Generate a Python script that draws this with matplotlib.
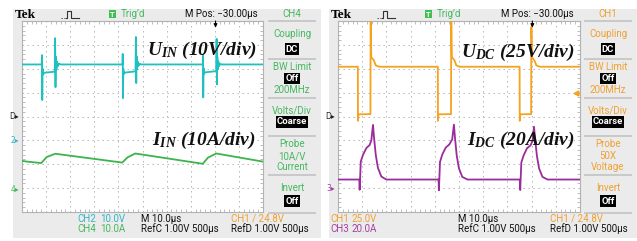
import matplotlib

matplotlib.use("Agg")
import matplotlib.pyplot as plt
from matplotlib.patches import Rectangle
from matplotlib.transforms import blended_transform_factory

# ── waveform data (time in µs, channel units) ────────────────────────────────
uin_t = [0.0, 8.2, 8.3, 8.4, 8.55, 8.75, 9.2, 13.6, 13.75, 13.9, 14.05, 14.25, 14.5, 14.8, 15.3, 16.0,
         41.7, 41.8, 41.9, 42.05, 42.25, 42.7, 47.1, 47.25, 47.4, 47.55, 47.75, 48.0, 48.3, 48.8, 49.5,
         75.0, 75.1, 75.2, 75.35, 75.55, 76.0, 80.6, 80.75, 80.9, 81.05, 81.25, 81.5, 81.8, 82.3, 83.0, 100.0]
uin_v = [31.8, 31.8, 35.7, 16.9, 30.0, 27.6, 28.3, 28.8, 42.8, 22.3, 35.0, 29.6, 33.0, 31.0, 32.2, 31.8,
         31.8, 36.2, 17.7, 30.0, 27.8, 28.4, 28.9, 43.3, 24.0, 35.2, 29.8, 33.0, 31.2, 32.1, 31.8,
         31.8, 36.0, 18.0, 30.2, 27.9, 28.5, 29.0, 42.5, 23.5, 35.0, 29.8, 33.0, 31.1, 32.0, 31.8, 31.8]

iin_t = [0.0, 3.0, 8.0, 10.2, 13.8, 41.6, 43.8, 47.0, 75.0, 77.2, 80.6, 100.0]
iin_a = [12.1, 11.7, 11.2, 13.7, 15.1, 11.4, 13.6, 15.2, 10.9, 13.5, 15.2, 11.8]

udc_t = [0.0, 8.2, 8.26, 8.45, 13.4, 13.5, 13.6, 13.75, 14.8, 15.6, 17.0,
         41.25, 41.3, 41.5, 46.7, 46.8, 46.9, 47.05, 48.1, 48.9, 50.3,
         75.05, 75.1, 75.3, 79.8, 79.9, 80.0, 80.15, 81.2, 82.0, 83.4, 100.0]
udc_v = [52.1, 52.1, -4.5, 2.3, 2.5, 112.0, 83.0, 62.0, 59.0, 53.5, 52.1,
         52.1, -4.5, 2.3, 2.5, 112.0, 83.0, 62.0, 59.0, 53.5, 52.1,
         52.1, -4.5, 2.3, 2.5, 93.6, 80.0, 62.0, 58.5, 53.5, 52.1, 52.1]

idc_t = [0.0, 8.8, 8.95, 9.4, 10.33, 11.7, 13.1, 13.8, 14.46, 14.9, 15.6, 16.5, 17.9, 20.0,
         41.55, 41.7, 42.15, 43.1, 44.5, 46.0, 47.2, 47.9, 48.35, 49.05, 49.95, 51.35, 53.5,
         75.15, 75.3, 75.75, 76.7, 78.1, 79.6, 80.4, 81.0, 81.45, 82.2, 83.1, 84.5, 86.6, 100.0]
idc_a = [7.8, 7.8, -0.8, 22.8, 28.5, 34.1, 36.8, 41.0, 53.6, 42.7, 28.5, 17.6, 10.3, 7.8,
         7.8, -1.2, 22.5, 28.8, 34.5, 37.2, 41.5, 53.8, 42.5, 28.0, 17.3, 10.0, 7.8,
         7.8, -1.0, 22.0, 28.0, 34.0, 36.5, 40.5, 52.1, 41.5, 27.5, 17.0, 10.0, 7.8, 7.8]

# channel settings: units per division and ground position (divisions from centre)
uin_scale, uin_ground = 10.0, -1.0     # CH2
iin_scale, iin_ground = 10.0, -3.07    # CH4
udc_scale, udc_ground = 25.0, 0.0      # CH1
idc_scale, idc_ground = 20.0, -3.03    # CH3
trig_level = 24.8                      # CH1 trigger, volts
trig_pos = 80.3                        # µs

# ── colours / fonts ──────────────────────────────────────────────────────────
CYAN, GREEN, ORANGE, PURPLE = "#1fc0c0", "#3cb44b", "#f5a31f", "#9b2c9b"
CYAN_TXT, GREEN_TXT, ORANGE_TXT, PURPLE_TXT = "#33b5c6", "#45b85f", "#f0a033", "#a142a1"
PANEL = "#ebebeb"
GRID = "#b2b2b2"
SEP = "#c6c6c6"
NARROW = ["Liberation Sans Narrow", "Roboto", "DejaVu Sans"]

plt.rcParams["lines.scale_dashes"] = False
plt.rcParams["mathtext.fontset"] = "custom"
plt.rcParams["mathtext.it"] = "Liberation Serif:italic:bold"
plt.rcParams["mathtext.rm"] = "Liberation Serif:italic:bold"
plt.rcParams["mathtext.bf"] = "Liberation Serif:italic:bold"

W, H = 637, 241
fig = plt.figure(figsize=(W / 100, H / 100), dpi=100)
fig.patch.set_facecolor("white")

bg = fig.add_axes([0, 0, 1, 1], zorder=0)
bg.set_xlim(0, W)
bg.set_ylim(H, 0)
bg.axis("off")

top = fig.add_axes([0, 0, 1, 1], zorder=3)
top.set_xlim(0, W)
top.set_ylim(H, 0)
top.axis("off")
top.patch.set_alpha(0)


def grid_axes(x0, x1, y0=21, y1=212):
    ax = fig.add_axes([x0 / W, (H - y1) / H, (x1 - x0) / W, (y1 - y0) / H], zorder=1)
    ax.set_facecolor("white")
    ax.set_xlim(0, 100)
    ax.set_ylim(-4, 4)
    ax.set_xticks(range(10, 100, 10))
    ax.set_yticks(range(-3, 4))
    ax.set_xticks([i * 2 for i in range(51)], minor=True)
    ax.set_yticks([i * 0.2 - 4 for i in range(41)], minor=True)
    ax.tick_params(which="both", direction="in", length=0, labelbottom=False, labelleft=False)
    ax.tick_params(which="minor", length=2.5, color=GRID, width=0.6,
                   top=True, right=True, bottom=True, left=True)
    ax.grid(True, which="major", color=GRID, lw=0.7, linestyle=(0, (1, 2.6)))
    for s in ax.spines.values():
        s.set_color(GRID)
        s.set_linewidth(0.8)
    return ax


def panel(ox, menu, menu_color, chan_head):
    # panel background, header and side menu; ox = horizontal offset of panel
    bg.add_patch(Rectangle((13 + ox, 9), 308, 229, facecolor=PANEL, edgecolor="none"))
    bg.text(15 + ox, 14.5, "Tek", fontsize=9.5, fontweight="bold",
            family="Liberation Serif", va="center", ha="left")
    # trigger icon
    bg.plot([61 + ox, 66 + ox], [18, 18], color="#555555", lw=0.7, linestyle=(0, (1, 1)))
    bg.plot([66 + ox, 67 + ox, 67 + ox, 71 + ox, 71 + ox, 79 + ox],
            [18, 18, 11, 11, 18, 18], color="#333333", lw=0.8)
    bg.add_patch(Rectangle((109 + ox, 10), 7, 8, facecolor="#3fbf4f", edgecolor="none"))
    bg.text(112.5 + ox, 14.3, "T", color="white", fontsize=5.5, fontweight="bold",
            ha="center", va="center", family=NARROW)
    bg.text(121 + ox, 14, "Trig\u2019d", color=GREEN_TXT, fontsize=7, ha="left",
            va="center", family=NARROW)
    bg.text(185 + ox, 14, "M Pos: \u221230.00\u00b5s", color="#111111", fontsize=7,
            ha="left", va="center", family=NARROW)

    cx = 292 + ox
    for y in [21, 58.5, 97.7, 136, 174.5, 213.3]:
        bg.plot([268 + ox, 316 + ox], [y, y], color=SEP, lw=1.3, solid_capstyle="butt")
    ys = [14, 34, 49, 67, 78.5, 90, 110, 122, 144, 156, 167, 188, 201]
    boxed = {2, 4, 7, 12}
    for i, (y, s) in enumerate(zip(ys, [chan_head] + menu)):
        if i in boxed:
            bg.text(cx, y, s, color="white", fontsize=6.8, fontweight="bold", ha="center",
                    va="center", family=NARROW,
                    bbox=dict(facecolor="black", edgecolor="none", pad=0.9))
        else:
            bg.text(cx, y, s, color=menu_color, fontsize=7, ha="center", va="center",
                    family=NARROW)


menu_left = ["Coupling", "DC", "BW Limit", "Off", "200MHz", "Volts/Div", "Coarse",
             "Probe", "10A/V", "Current", "Invert", "Off"]
menu_right = ["Coupling", "DC", "BW Limit", "Off", "200MHz", "Volts/Div", "Coarse",
              "Probe", "50X", "Voltage", "Invert", "Off"]
panel(0, menu_left, GREEN_TXT, "CH4")
panel(316, menu_right, ORANGE_TXT, "CH1")

# ── bottom status lines ─────────────────────────────────────────────────────
status = [
    ("CH2", 77, 219, CYAN_TXT), ("10.0V", 100, 219, CYAN_TXT),
    ("CH4", 77, 229, GREEN_TXT), ("10.0A", 100, 229, GREEN_TXT),
    ("M 10.0\u00b5s", 141, 219, "#111111"), ("RefC 1.00V 500\u00b5s", 141, 229, "#111111"),
    ("CH1 / 24.8V", 231, 219, ORANGE_TXT), ("RefD 1.00V 500\u00b5s", 231, 229, "#111111"),
    ("CH1", 330, 219, ORANGE_TXT), ("25.0V", 351, 219, ORANGE_TXT),
    ("CH3", 330, 229, PURPLE_TXT), ("20.0A", 351, 229, PURPLE_TXT),
    ("M 10.0\u00b5s", 458, 219, "#111111"), ("RefC 1.00V 500\u00b5s", 458, 229, "#111111"),
    ("CH1 / 24.8V", 550, 219, ORANGE_TXT), ("RefD 1.00V 500\u00b5s", 550, 229, "#111111"),
]
for s, x, y, c in status:
    bg.text(x, y, s, color=c, fontsize=7, ha="left", va="center", family=NARROW)

# ── oscilloscope screens ─────────────────────────────────────────────────────
axL = grid_axes(22, 263)
axR = grid_axes(338, 580)


def trace(ax, t, vals, scale, ground, color):
    ax.plot(t, [ground + v / scale for v in vals], color=color, lw=1.3, zorder=3)


trace(axL, uin_t, uin_v, uin_scale, uin_ground, CYAN)
trace(axL, iin_t, iin_a, iin_scale, iin_ground, GREEN)
trace(axR, udc_t, udc_v, udc_scale, udc_ground, ORANGE)
trace(axR, idc_t, idc_a, idc_scale, idc_ground, PURPLE)


def marker(ax, level, label, color):
    tr = blended_transform_factory(ax.transAxes, ax.transData)
    ax.text(-0.012, level, label, transform=tr, color=color, fontsize=5.5,
            ha="right", va="center", clip_on=False)


marker(axL, 0.0, "D\u25b8", "#222222")
marker(axL, uin_ground, "2\u25b8", CYAN_TXT)
marker(axL, iin_ground, "4\u25b8", GREEN_TXT)
marker(axR, 0.0, "D\u25b8", "#222222")
marker(axR, idc_ground, "3\u25b8", PURPLE_TXT)

# trigger level (CH1) on right screen
trR = blended_transform_factory(axR.transAxes, axR.transData)
axR.plot([0.985], [udc_ground + trig_level / udc_scale], marker="<", markersize=3.5,
         color=ORANGE, transform=trR, clip_on=False)

# trigger position arrows
for ax in (axL, axR):
    trp = blended_transform_factory(ax.transData, ax.transAxes)
    ax.annotate("", xy=(trig_pos, 0.965), xytext=(trig_pos, 1.0), xycoords=trp,
                textcoords=trp, annotation_clip=False,
                arrowprops=dict(arrowstyle="-|>", color="black", lw=0.8,
                                mutation_scale=5, shrinkA=0, shrinkB=0))

# ── overlay labels ───────────────────────────────────────────────────────────
labels = [
    (r"$U_{IN}$ (10V/div)", 147, 55),
    (r"$I_{IN}$ (10A/div)", 152, 145),
    (r"$U_{DC}$ (25V/div)", 461, 57),
    (r"$I_{DC}$ (20A/div)", 467, 145),
]
for s, x, y in labels:
    top.text(x, y, s, fontsize=14, family="Liberation Serif", fontweight="bold",
             style="italic", ha="left", va="baseline", color="#111111")

fig.savefig("out.png", dpi=100, facecolor="white")
plt.close(fig)
